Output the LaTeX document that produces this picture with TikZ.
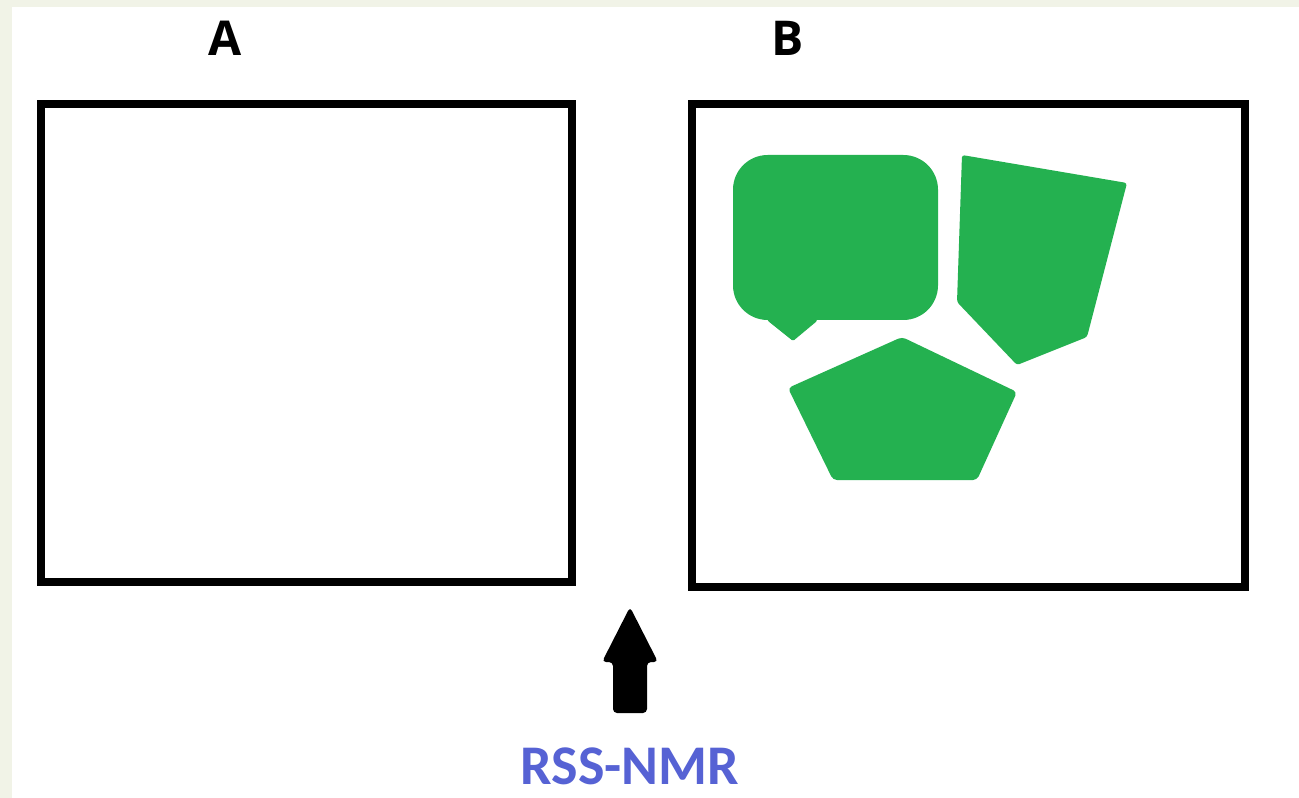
\documentclass[tikz,border=0pt]{standalone}
\usepackage{fontspec}
\newfontfamily\panelfont{Open Sans}
\newfontfamily\methodfont{Carlito}
\usetikzlibrary{calc}

\definecolor{cream}{RGB}{241,243,231}
\definecolor{blobgreen}{RGB}{36,177,80}
\definecolor{nmrblue}{RGB}{86,98,212}

\begin{document}
\begin{tikzpicture}[x=0.75pt,y=-0.75pt]

		\useasboundingbox (0,0) rectangle (1299,798);
		\fill [white] (0,0) rectangle (1299,798);
		\fill [cream] (0,0) rectangle (1299,7);
		\fill [cream] (0,0) rectangle (12,798);

		\coordinate (A1) at (41,104) ;
		\coordinate (A2) at (572,582) ;
		\coordinate (B1) at (692,104) ;
		\coordinate (B2) at (1245,587) ;

		%\draw (A1) node [above] {A1} ;
		\draw [line width=6.5pt] (A1) rectangle (A2);
		\draw [line width=6.5pt] (B1) rectangle (B2);

		\node [font=\panelfont\bfseries\fontsize{36}{40}\selectfont] (A) at (225,38) {A};
		\node [font=\panelfont\bfseries\fontsize{36}{40}\selectfont] (B) at (788,38) {B};

		% speech bubble
		\fill [blobgreen, rounded corners=26pt] (733,155) -- (938,155) -- (938,320) -- (733,320) -- cycle;
		\fill [blobgreen, rounded corners=1pt] (766,316) -- (817,316) -- (817,321) -- (793,341) -- (768,321) -- cycle;

		% quadrilateral
		\fill [blobgreen, rounded corners=2pt] (962,155) -- (1127,183) -- (1087,337) -- (1017,365) -- (957,302) -- cycle;

		% pentagon
		\fill [blobgreen, rounded corners=3pt] (902,337) -- (1017,392) -- (977,480) -- (833,480) -- (788,388) -- cycle;

		% arrow
		\coordinate (T) at (630,607) ;
		\fill [black, rounded corners=3pt] (T) -- (658,662) -- (647,662) -- (647,713) -- (613,713) -- (613,662) -- (602,662) -- cycle;

		\node [font=\methodfont\bfseries\fontsize{42}{46}\selectfont, text=nmrblue] (NMR) at (630,766) {RSS-NMR};

\end{tikzpicture}
\end{document}
